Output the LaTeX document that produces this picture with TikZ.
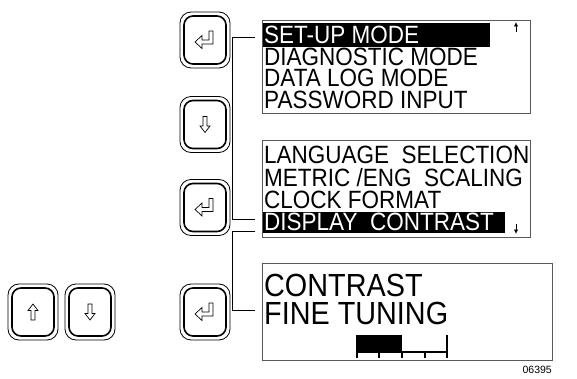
\documentclass[tikz,border=0pt]{standalone}
\usepackage{fontspec}
\setmainfont{Liberation Sans}
\newfontfamily\lcdfont[FakeStretch=0.9]{Liberation Sans}
\usetikzlibrary{arrows.meta}
\tikzset{
  btnout/.style={draw, line width=0.8pt, rounded corners=11pt, minimum width=50pt, minimum height=56pt, inner sep=0pt},
  btnin/.style={draw, line width=1.6pt, rounded corners=9pt, minimum width=42pt, minimum height=48pt, inner sep=0pt},
  screen/.style={draw=black!65, line width=1pt},
  menu/.style={anchor=base west, inner sep=0pt, text height=17pt, text depth=0pt, font=\lcdfont\fontsize{25}{25}\selectfont},
  big/.style={anchor=base west, inner sep=0pt, text height=23pt, text depth=0pt, font=\lcdfont\fontsize{32}{32}\selectfont},
  sel/.style={menu, text=white},
  glyph/.style={line width=0.7pt, line join=miter},
  brack/.style={line width=0.8pt},
  scroll/.style={line width=1pt, -{Latex[length=4.5pt,width=4.5pt]}},
}
\newcommand\kbtn[3]{%
  \node[btnout] (#1) at (#2,#3) {};
  \node[btnin] (#1i) at (#1.center) {};
}
\newcommand\enterglyph[1]{%
  \draw[glyph,shift={(#1)}] (8,-9) -- (8,4) -- (-3,4) -- (-3,8.5) -- (-10,2) -- (-3,-4.5) -- (-3,0) -- (4,0) -- (4,-9) -- cycle;
}
\newcommand\upglyph[1]{%
  \draw[glyph,shift={(#1)}] (0,-8) -- (5,-1.5) -- (2,-1.5) -- (2,8) -- (-2,8) -- (-2,-1.5) -- (-5,-1.5) -- cycle;
}
\newcommand\downglyph[1]{%
  \draw[glyph,shift={(#1)}] (0,8) -- (5,1.5) -- (2,1.5) -- (2,-8) -- (-2,-8) -- (-2,1.5) -- (-5,1.5) -- cycle;
}
\begin{document}
\begin{tikzpicture}[x=1pt,y=-1pt]
\useasboundingbox (0,0) rectangle (577,379);
% buttons
\kbtn{b1}{205}{40}
\kbtn{b2}{205}{124.5}
\kbtn{b3}{205}{207.5}
\kbtn{b4}{33}{312}
\kbtn{b5}{90}{312}
\kbtn{b6}{205}{312}
\enterglyph{b1.center}
\downglyph{b2.center}
\enterglyph{b3.center}
\upglyph{b4.center}
\downglyph{b5.center}
\enterglyph{b6.center}
% screen 1
\draw[screen] (262,21) rectangle (530,114);
\fill (263,23) rectangle (490,47);
\node[sel] (s1a) at (264,44) {SET-UP MODE};
\node[menu] (s1b) at (264,66) {DIAGNOSTIC MODE};
\node[menu] (s1c) at (264,87) {DATA LOG MODE};
\node[menu] (s1d) at (264,109) {PASSWORD INPUT};
\coordinate (u1b) at (516,32);
\coordinate (u1t) at (516,22);
\draw[scroll] (u1b) -- (u1t);
% screen 2
\draw[screen] (262,141) rectangle (530,237);
\fill (263,212) rectangle (505,233);
\node[menu] (s2a) at (264,164) {LANGUAGE\ \ SELECTION};
\node[menu] (s2b) at (264,186) {METRIC /ENG\ \ SCALING};
\node[menu] (s2c) at (264,208) {CLOCK FORMAT};
\node[sel] (s2d) at (264,230.5) {DISPLAY\ \ CONTRAST};
\coordinate (u2b) at (516,154);
\coordinate (u2t) at (516,144);
\draw[scroll] (u2b) -- (u2t);
\coordinate (d2t) at (516,224);
\coordinate (d2b) at (516,234);
\draw[scroll] (d2t) -- (d2b);
% screen 3
\draw[screen] (262,263) rectangle (552,360);
\node[big] (s3a) at (264,296) {CONTRAST};
\node[big] (s3b) at (264,324) {FINE TUNING};
\fill (356,335) rectangle (402,353);
\draw[line width=1.5pt] (402,352) -- (447,352);
\draw[line width=2pt] (447,335) -- (447,358);
\foreach \tx in {357,379,402,425} \draw[line width=2pt] (\tx,351) -- (\tx,358);
\node[anchor=base east, inner sep=0pt, font=\fontsize{10.5}{10.5}\selectfont] (lbl) at (552,373) {06395};
% brackets
\draw[brack] (255,37) -- (232,37) -- (232,219) -- (255,219);
\draw[brack] (255,231) -- (232,231) -- (232,310) -- (255,310);
\end{tikzpicture}
\end{document}
